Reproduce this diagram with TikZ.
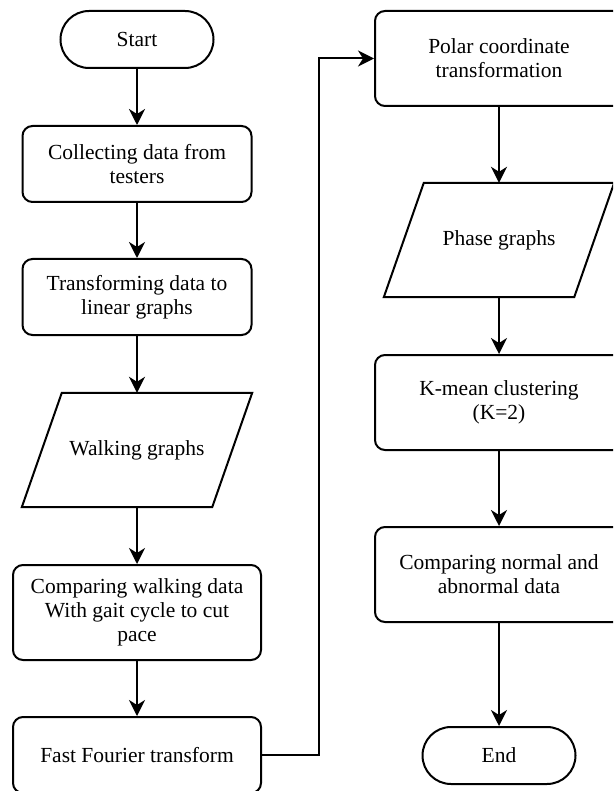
\documentclass[tikz,border=0pt]{standalone}
\usepackage{fontspec}
\setmainfont{Liberation Serif}
\usetikzlibrary{arrows.meta}
\begin{document}
\begin{tikzpicture}[x=1pt,y=-1pt,
  every node/.style={font=\fontsize{21.5}{24}\selectfont, align=center, inner sep=0pt},
  proc/.style={draw, line width=2pt, rounded corners=10pt, minimum height=#1},
  proc/.default=95pt,
  narrowbox/.style={proc=76pt, minimum width=229pt},
  widebox/.style={minimum width=248pt},
  term/.style={draw, line width=2pt, rounded corners=28.5pt, minimum width=153pt, minimum height=57pt},
  iobox/.style={minimum width=190pt, minimum height=114pt},
  iodraw/.style={line width=2pt, line join=miter},
  flow/.style={line width=2pt, -{Stealth[length=16pt, width=16pt, inset=5pt]}},
  link/.style={line width=2pt}
]
\useasboundingbox (0,0) rectangle (613,791);
\clip (0,0) rectangle (613,791);

% left column
\node[term] (start) at (137,39.5) {Start};
\node[narrowbox] (collect) at (137,164) {Collecting data from\\testers};
\node[narrowbox] (transform) at (137,297) {Transforming data to\\linear graphs};
\node[iobox] (walk) at (137,450) {Walking graphs};
\draw[iodraw] ([xshift=20pt]walk.north west) -- ([xshift=20pt]walk.north east)
  -- ([xshift=-20pt]walk.south east) -- ([xshift=-20pt]walk.south west) -- cycle;
\node[proc, widebox] (compare) at (137,612.5) {Comparing walking data\\With gait cycle to cut\\pace};
\node[proc=76pt, widebox] (fft) at (137,755) {Fast Fourier transform};

% right column
\node[proc, widebox] (polar) at (499,58.5) {Polar coordinate\\transformation};
\node[iobox] (phase) at (499,240) {Phase graphs};
\draw[iodraw] ([xshift=20pt]phase.north west) -- ([xshift=20pt]phase.north east)
  -- ([xshift=-20pt]phase.south east) -- ([xshift=-20pt]phase.south west) -- cycle;
\node[proc, widebox] (kmean) at (499,402.5) {K-mean clustering\\(K=2)};
\node[proc, widebox] (cmpnorm) at (499,574.5) {Comparing normal and\\abnormal data};
\node[term] (end) at (499,755.5) {End};

% connectors
\draw[flow] (start) -- (collect);
\draw[flow] (collect) -- (transform);
\draw[flow] (transform) -- (walk);
\draw[flow] (walk) -- (compare);
\draw[flow] (compare) -- (fft);
\draw[flow] (fft.east) -- ++(57,0) |- (polar.west);
\draw[flow] (polar) -- (phase);
\draw[flow] (phase) -- (kmean);
\draw[flow] (kmean) -- (cmpnorm);
\draw[flow] (cmpnorm) -- (end);
\end{tikzpicture}
\end{document}
